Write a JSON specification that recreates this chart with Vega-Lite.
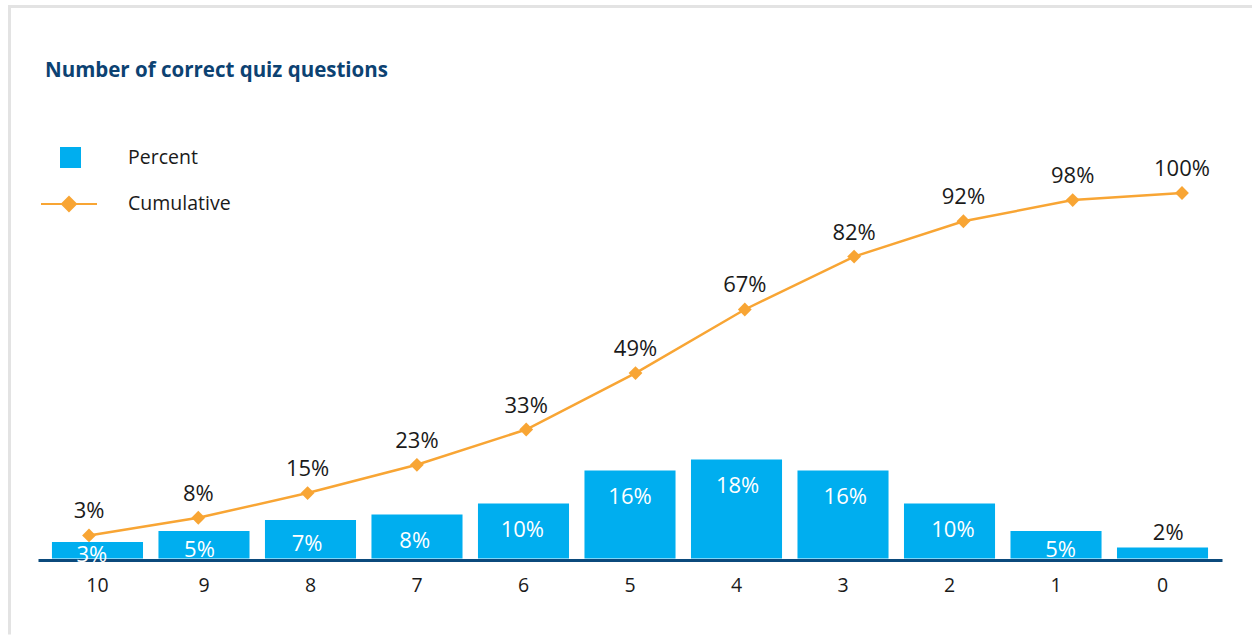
{
  "$schema": "https://vega.github.io/schema/vega-lite/v6.json",
  "autosize": "none",
  "width": 1242.5,
  "height": 628,
  "padding": {"left": 9.5, "top": 6.5, "right": 0, "bottom": 0},
  "background": "white",
  "config": {
    "font": "Open Sans",
    "view": {"stroke": "#e3e3e3", "strokeWidth": 3, "strokeDash": [1242.5, 1870.5, 628]},
    "legend": {"padding": 0}
  },
  "title": {
    "text": "Number of correct quiz questions",
    "anchor": "start",
    "frame": "group",
    "dx": 35.5,
    "offset": -90.5,
    "baseline": "alphabetic",
    "font": "Open Sans",
    "fontSize": 20.5,
    "fontWeight": "bold",
    "color": "#0c4272"
  },
  "data": {
    "values": [
      {"q": "10", "percent": 0.03, "cumulative": 0.03},
      {"q": "9", "percent": 0.05, "cumulative": 0.08},
      {"q": "8", "percent": 0.07, "cumulative": 0.15},
      {"q": "7", "percent": 0.08, "cumulative": 0.23},
      {"q": "6", "percent": 0.10, "cumulative": 0.33},
      {"q": "5", "percent": 0.16, "cumulative": 0.49},
      {"q": "4", "percent": 0.18, "cumulative": 0.67},
      {"q": "3", "percent": 0.16, "cumulative": 0.82},
      {"q": "2", "percent": 0.10, "cumulative": 0.92},
      {"q": "1", "percent": 0.05, "cumulative": 0.98},
      {"q": "0", "percent": 0.02, "cumulative": 1.00}
    ]
  },
  "layer": [
    {
      "mark": {"type": "bar"},
      "encoding": {
        "x": {
          "field": "q",
          "type": "ordinal",
          "sort": null,
          "scale": {"domain": ["10", "9", "8", "7", "6", "5", "4", "3", "2", "1", "0"], "range": [28.5, 1212.5], "paddingInner": 0.145, "paddingOuter": 0.131},
          "axis": {
            "title": null,
            "labelAngle": 0,
            "ticks": false,
            "offset": -74.5,
            "domainColor": "#0b4a7c",
            "domainWidth": 3,
            "labelFont": "Open Sans",
            "labelFontSize": 19.5,
            "labelColor": "#1a1a1a",
            "labelPadding": 16
          }
        },
        "y": {"field": "percent", "type": "quantitative", "scale": {"domain": [0, 0.745], "range": [552, 142], "nice": false, "zero": true}, "axis": null},
        "fill": {
          "datum": "Percent",
          "scale": {"range": ["#00aeef"]},
          "legend": {
            "orient": "none",
            "legendX": 50.5,
            "legendY": 140.5,
            "title": null,
            "symbolType": "square",
            "symbolSize": 441,
            "symbolStrokeWidth": 0,
            "labelOffset": 47,
            "labelFont": "Open Sans",
            "labelFontSize": 19.5,
            "labelColor": "#1a1a1a"
          }
        }
      }
    },
    {
      "transform": [{"filter": "datum.percent >= 0.09"}],
      "mark": {"type": "text", "color": "white", "fontSize": 22, "baseline": "middle", "dy": 27},
      "encoding": {
        "x": {"field": "q", "type": "ordinal", "sort": null, "scale": {"domain": ["10", "9", "8", "7", "6", "5", "4", "3", "2", "1", "0"], "range": [28.5, 1212.5], "paddingInner": 0.145, "paddingOuter": 0.131}, "axis": null},
        "y": {"field": "percent", "type": "quantitative", "scale": {"domain": [0, 0.745], "range": [552, 142], "nice": false}, "axis": null},
        "text": {"field": "percent", "type": "quantitative", "format": ".0%"}
      }
    },
    {
      "transform": [{"filter": "datum.percent >= 0.03 && datum.percent < 0.09"}],
      "mark": {"type": "text", "color": "white", "fontSize": 22, "baseline": "middle", "dy": 5},
      "encoding": {
        "x": {"field": "q", "type": "ordinal", "sort": null, "scale": {"domain": ["10", "9", "8", "7", "6", "5", "4", "3", "2", "1", "0"], "range": [28.5, 1212.5], "paddingInner": 0.145, "paddingOuter": 0.131}, "axis": null},
        "y": {"field": "percent", "type": "quantitative", "scale": {"domain": [0, 1.49], "range": [552, 142], "nice": false}, "axis": null},
        "text": {"field": "percent", "type": "quantitative", "format": ".0%"}
      }
    },
    {
      "transform": [{"filter": "datum.percent < 0.03"}],
      "mark": {"type": "text", "color": "#1a1a1a", "fontSize": 22, "baseline": "middle", "dy": -14},
      "encoding": {
        "x": {"field": "q", "type": "ordinal", "sort": null, "scale": {"domain": ["10", "9", "8", "7", "6", "5", "4", "3", "2", "1", "0"], "range": [28.5, 1212.5], "paddingInner": 0.145, "paddingOuter": 0.131}, "axis": null},
        "y": {"field": "percent", "type": "quantitative", "scale": {"domain": [0, 0.745], "range": [552, 142], "nice": false}, "axis": null},
        "text": {"field": "percent", "type": "quantitative", "format": ".0%"}
      }
    },
    {
      "mark": {"type": "line", "strokeWidth": 2.5},
      "encoding": {
        "x": {"field": "q", "type": "ordinal", "sort": null, "scale": {"type": "point", "domain": ["10", "9", "8", "7", "6", "5", "4", "3", "2", "1", "0"], "range": [79.5, 1172.5], "padding": 0}, "axis": null},
        "y": {"field": "cumulative", "type": "quantitative", "scale": {"domain": [0, 1], "range": [539.5, 186.5], "nice": false}, "axis": null},
        "stroke": {
          "datum": "Cumulative",
          "scale": {"range": ["#f8a534"]},
          "legend": {
            "orient": "none",
            "legendX": 30.5,
            "legendY": 168.5,
            "title": null,
            "symbolType": "M-1,0L1,0M0,-0.25L0.25,0L0,0.25L-0.25,0Z",
            "symbolSize": 3136,
            "symbolStrokeWidth": 2,
            "symbolFillColor": "#f8a534",
            "labelOffset": 30,
            "labelFont": "Open Sans",
            "labelFontSize": 19.5,
            "labelColor": "#1a1a1a",
            "encode": {"symbols": {"update": {"fill": {"value": "#f8a534"}, "stroke": {"value": "#f8a534"}}}}
          }
        }
      }
    },
    {
      "mark": {"type": "point", "shape": "diamond", "filled": true, "size": 190, "color": "#f8a534", "opacity": 1},
      "encoding": {
        "x": {"field": "q", "type": "ordinal", "sort": null, "scale": {"type": "point", "domain": ["10", "9", "8", "7", "6", "5", "4", "3", "2", "1", "0"], "range": [79.5, 1172.5], "padding": 0}, "axis": null},
        "y": {"field": "cumulative", "type": "quantitative", "scale": {"domain": [0, 1], "range": [539.5, 186.5], "nice": false}, "axis": null}
      }
    },
    {
      "mark": {"type": "text", "color": "#1a1a1a", "fontSize": 22, "baseline": "middle", "dy": -24},
      "encoding": {
        "x": {"field": "q", "type": "ordinal", "sort": null, "scale": {"type": "point", "domain": ["10", "9", "8", "7", "6", "5", "4", "3", "2", "1", "0"], "range": [79.5, 1172.5], "padding": 0}, "axis": null},
        "y": {"field": "cumulative", "type": "quantitative", "scale": {"domain": [0, 1], "range": [539.5, 186.5], "nice": false}, "axis": null},
        "text": {"field": "cumulative", "type": "quantitative", "format": ".0%"}
      }
    }
  ],
  "resolve": {"scale": {"x": "independent", "y": "independent"}}
}
